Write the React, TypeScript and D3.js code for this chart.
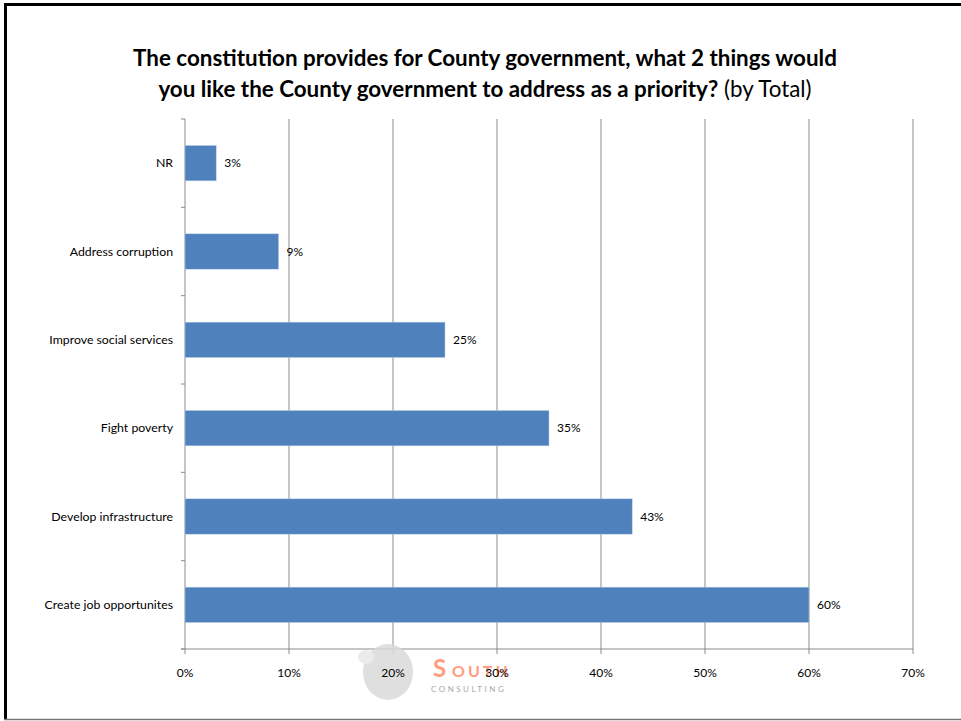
import React from "react";
import * as d3 from "d3";

const categories = [
  "NR",
  "Address corruption",
  "Improve social services",
  "Fight poverty",
  "Develop infrastructure",
  "Create job opportunites",
];
const values = [3, 9, 25, 35, 43, 60];
const xTicks = [0, 10, 20, 30, 40, 50, 60, 70];
const titleLine1 = "The constitution provides for County government, what 2 things would";
const titleLine2Bold = "you like the County government to address as a priority?";
const titleLine2Normal = " (by Total)";

const W = 961;
const H = 721;
const left = 185;
const right = 913;
const top = 119;
const bottom = 649;
const font = "Lato, 'Open Sans', sans-serif";

export default function App() {
  const x = d3.scaleLinear().domain([0, 70]).range([left, right]);
  const y = d3.scaleBand().domain(categories).range([top, bottom]).paddingInner(0.6).paddingOuter(0.3);
  const bandEdges = d3.range(categories.length + 1).map((i) => top + ((bottom - top) / categories.length) * i);
  const gridColor = "#8c8c8c";

  return (
    <svg width={W} height={H} style={{ position: "absolute", left: 0, top: 0, background: "#fff" }}>
      {/* slide frame */}
      <rect x={0} y={0} width={W} height={H} fill="#fff" />
      <line x1={4} x2={W} y1={4.5} y2={4.5} stroke="#000" strokeWidth={3} />
      <line x1={5.5} x2={5.5} y1={4} y2={719} stroke="#000" strokeWidth={3} />
      <line x1={4} x2={W} y1={719.5} y2={719.5} stroke="#777" strokeWidth={1.5} />

      {/* title */}
      <text x={485} y={66} textAnchor="middle" fontFamily={font} fontWeight="bold" fontSize={22.4} fill="#000">
        {titleLine1}
      </text>
      <text x={485} y={97} textAnchor="middle" fontFamily={font} fontSize={22.4} fill="#000">
        <tspan fontWeight="bold">{titleLine2Bold}</tspan>
        <tspan>{titleLine2Normal}</tspan>
      </text>

      {/* gridlines */}
      {xTicks.map((t) => (
        <line key={"g" + t} x1={x(t)} x2={x(t)} y1={top} y2={bottom + 5} stroke={gridColor} strokeWidth={1} />
      ))}
      {/* axes */}
      <line x1={left - 4} x2={right} y1={bottom} y2={bottom} stroke={gridColor} strokeWidth={1} />
      {bandEdges.map((e, i) => (
        <line key={"yt" + i} x1={left - 4} x2={left} y1={e} y2={e} stroke={gridColor} strokeWidth={1} />
      ))}

      {/* bars */}
      {categories.map((c, i) => (
        <g key={c}>
          <rect
            x={x(0)}
            y={y(c)}
            width={x(values[i]) - x(0)}
            height={y.bandwidth()}
            fill="#4f81bd"
            stroke="#b9cde5"
            strokeWidth={0.5}
          />
          <text
            x={x(values[i]) + 8}
            y={(y(c) as number) + y.bandwidth() / 2}
            dy="0.35em"
            fontFamily={font}
            fontSize={12}
            fill="#000"
          >
            {values[i]}%
          </text>
          <text
            x={173}
            y={(y(c) as number) + y.bandwidth() / 2}
            dy="0.35em"
            textAnchor="end"
            fontFamily={font}
            fontSize={12.3}
            fill="#000"
          >
            {c}
          </text>
        </g>
      ))}

      {/* logo watermark */}
      <g opacity={0.85}>
        <ellipse cx={388} cy={672} rx={25} ry={28} fill="#dadada" />
        <ellipse cx={366} cy={657} rx={8} ry={7} fill="#e8e8e8" />
        <text x={433} y={677} fontFamily={font} fontWeight="bold" fontSize={24} fill="#ff7043" opacity={0.8}>S</text>
        <text x={452} y={677} fontFamily={font} fontWeight="bold" fontSize={16} fill="#ff7043" opacity={0.8} letterSpacing={3}>OUTH</text>
        <text x={431} y={692} fontFamily={font} fontSize={8} fill="#9a9a9a" letterSpacing={2.5}>CONSULTING</text>
      </g>

      {/* x tick labels */}
      {xTicks.map((t) => (
        <text key={"xl" + t} x={x(t)} y={677} textAnchor="middle" fontFamily={font} fontSize={12} fill="#000">
          {t}%
        </text>
      ))}
    </svg>
  );
}
